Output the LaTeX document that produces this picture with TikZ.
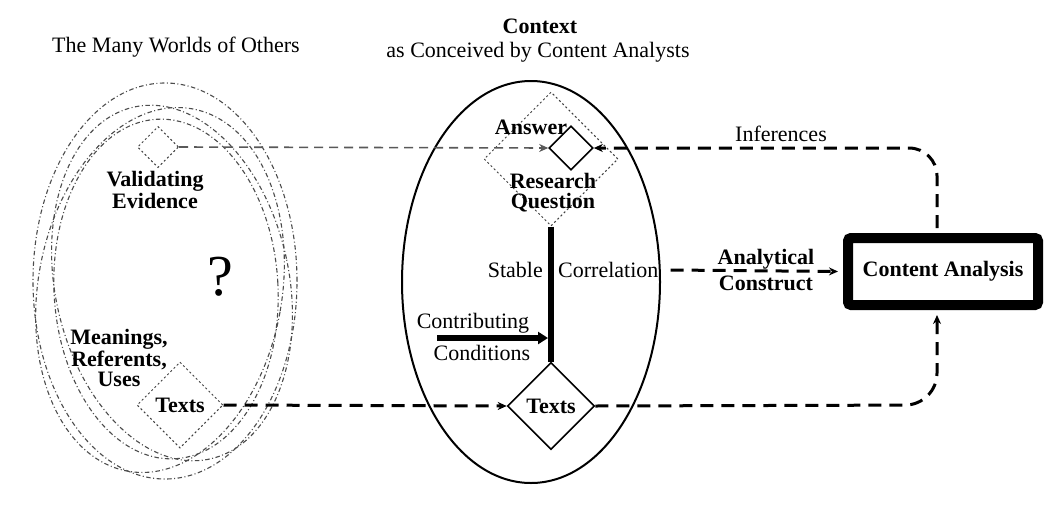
\documentclass[tikz,border=0pt]{standalone}
\usepackage{fontspec}
\setmainfont{Liberation Serif}
\usetikzlibrary{shapes.geometric,arrows.meta,calc}
\begin{document}
\begin{tikzpicture}[x=1pt,y=-1pt,
  every node/.style={font=\fontsize{22}{22}\selectfont, inner sep=0pt},
  bf/.style={font=\fontsize{22}{20}\selectfont\bfseries, align=center},
  rm/.style={font=\fontsize{22}{20}\selectfont, align=center},
  dia/.style={diamond, inner sep=0pt, minimum width=#1, minimum height=#1},
  world/.style={draw=black!70, line width=1.1pt, dash pattern=on 4.5pt off 2.5pt on 1pt off 2.5pt},
  dotline/.style={draw=black!75, line width=1pt, dash pattern=on 2pt off 2.5pt},
  lineD/.style={line width=3pt, dash pattern=on 13pt off 8pt},
  tipA/.style={-{Stealth[length=9pt,width=8pt]}},
]
\useasboundingbox (0,0) rectangle (1051,514);
\fill[white] (0,0) rectangle (1051,514);

% titles
\node (worlds) at (176,47) {The Many Worlds of Others};
\node[bf] (ctx) at (540,26) {Context};
\node (ctx2) at (538,52) {as Conceived by Content Analysts};

% many worlds
\draw[world] (165,281) ellipse [x radius=132pt, y radius=198pt];
\draw[world, rotate around={-10:(160,290)}] (160,290) ellipse [x radius=122pt, y radius=184pt];
\draw[world, rotate around={12:(172,283)}] (172,283) ellipse [x radius=117pt, y radius=180pt];
\draw[world, rotate around={3:(166,289)}] (166,289) ellipse [x radius=112pt, y radius=170pt];

\node[dia=41pt, dotline] (ve) at (158,147) {};
\node[bf] (vetext) at (155,190) {Validating\\Evidence};
\node[font=\fontsize{58}{60}\selectfont] (q) at (220,277) {?};
\node[bf] (mru) at (119,358) {Meanings,\\Referents,\\Uses};
\node[dia=86pt, dotline, font=\fontsize{22}{22}\selectfont\bfseries] (lt) at (180,405) {Texts};

% context ellipse
\draw[line width=2pt] (531,282) ellipse [x radius=129pt, y radius=201pt];

\node[dia=134pt, dotline] (rq) at (551,159) {};
\node[dia=44pt, draw, line width=1.6pt] (ans) at (571,148) {};
\node[bf] (anstext) at (531,127) {Answer};
\node[bf] (rqtext) at (553,193) {Research\\Question};
\node[dia=87pt, draw, line width=1.6pt, font=\fontsize{22}{22}\selectfont\bfseries] (ct) at (551,406) {Texts};

\draw[line width=6pt] (rq.south) -- (ct.north);

\node[anchor=east] (stable) at (543,270) {Stable};
\node[anchor=west] (corr) at (558,270) {Correlation};

\node (contrib) at (473,323) {Contributing};
\node (cond) at (482,353) {Conditions};
\coordinate (ccs) at (437,338);
\coordinate (cce) at (548,338);
\draw[line width=6pt, -{Triangle[length=10pt,width=12pt]}] (ccs) -- (cce);

% content analysis
\node[draw, line width=10pt, rounded corners=3pt, minimum width=190pt, minimum height=67pt,
      font=\fontsize{22}{22}\selectfont\bfseries] (ca) at (943,271.5) {Content Analysis};

\draw[lineD, tipA] (corr.east) ++(12,0) coordinate (acs) -- ([xshift=-5pt]ca.west);
\node[bf, font=\fontsize{22}{26}\selectfont\bfseries] (act) at (766,270) {Analytical\\Construct};

% connectors
\coordinate (tr) at (937,148);
\coordinate (br) at (937,405);
\draw[draw=black!65, line width=1.6pt, dash pattern=on 9pt off 6pt, tipA] (ve.east) -- (ans.west);
\draw[lineD, rounded corners=28pt, tipA] ([xshift=-6pt]ca.north) ++(0,-5) -- (tr) -- (ans.east);
\node (inf) at (781,134) {Inferences};
\draw[lineD, tipA] (lt.east) -- (ct.west);
\draw[lineD, rounded corners=32pt, tipA, shorten >=5pt] (ct.east) -- (br) -- ([xshift=-6pt]ca.south);
\end{tikzpicture}
\end{document}
